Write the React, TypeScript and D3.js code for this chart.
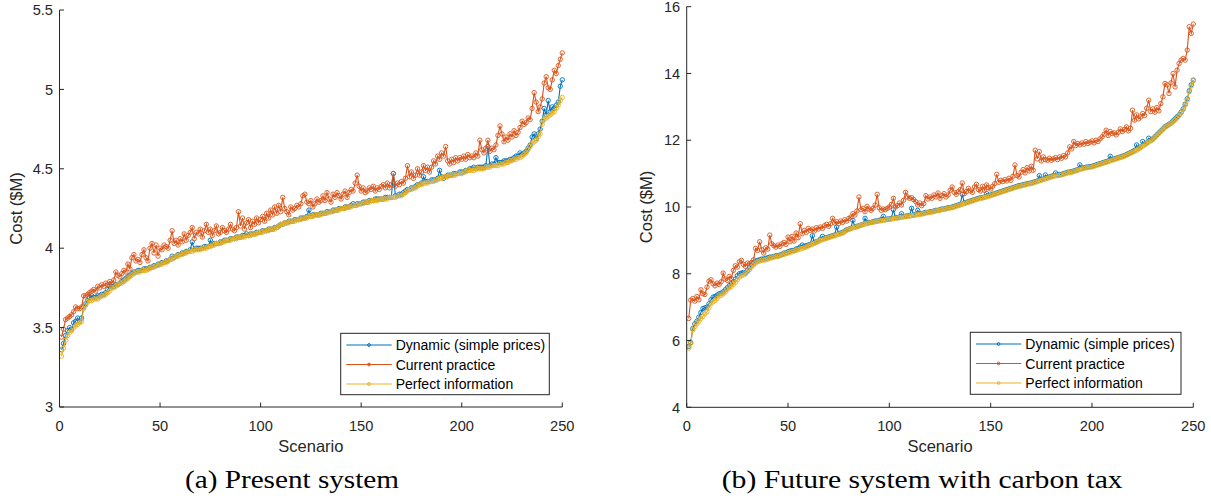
import React from 'react';
import * as d3 from 'd3';

// ---- Present system: cost per scenario ($M) ----
const presentDynamic = [
  3.36,3.40,3.45,3.48,3.50,3.49,3.53,3.54,3.56,3.54,
  3.56,3.63,3.65,3.67,3.69,3.70,3.69,3.69,3.70,3.70,
  3.71,3.71,3.72,3.74,3.76,3.76,3.76,3.77,3.77,3.78,
  3.79,3.80,3.81,3.82,3.83,3.84,3.85,3.85,3.86,3.86,
  3.86,3.87,3.87,3.87,3.88,3.88,3.89,3.89,3.90,3.90,
  3.91,3.91,3.92,3.92,3.93,3.95,3.94,3.95,3.96,3.96,
  3.97,3.97,3.98,3.98,3.99,4.04,3.99,4.00,4.00,4.00,
  4.00,4.01,4.01,4.01,4.05,4.02,4.03,4.03,4.03,4.04,
  4.04,4.05,4.05,4.05,4.06,4.06,4.06,4.07,4.07,4.07,
  4.08,4.08,4.09,4.08,4.09,4.09,4.09,4.10,4.10,4.10,
  4.11,4.11,4.11,4.12,4.12,4.12,4.13,4.13,4.14,4.15,
  4.15,4.16,4.16,4.17,4.17,4.17,4.18,4.18,4.18,4.19,
  4.19,4.19,4.20,4.24,4.20,4.21,4.21,4.21,4.21,4.22,
  4.22,4.22,4.23,4.23,4.23,4.24,4.24,4.24,4.25,4.25,
  4.25,4.26,4.26,4.26,4.27,4.28,4.27,4.28,4.28,4.28,
  4.29,4.29,4.29,4.30,4.30,4.30,4.31,4.31,4.31,4.31,
  4.31,4.32,4.32,4.32,4.32,4.47,4.33,4.33,4.34,4.34,
  4.35,4.36,4.37,4.37,4.38,4.38,4.39,4.40,4.40,4.41,
  4.45,4.42,4.42,4.42,4.43,4.43,4.43,4.44,4.49,4.45,
  4.44,4.45,4.46,4.46,4.46,4.47,4.47,4.47,4.48,4.48,
  4.48,4.49,4.49,4.50,4.50,4.51,4.50,4.51,4.51,4.51,
  4.51,4.52,4.64,4.52,4.53,4.53,4.57,4.54,4.54,4.54,
  4.55,4.55,4.55,4.56,4.56,4.57,4.58,4.58,4.60,4.59,
  4.60,4.61,4.63,4.65,4.70,4.72,4.69,4.72,4.75,4.80,
  4.88,4.84,4.93,4.86,4.89,4.88,4.90,4.92,5.02,5.06,
];

const presentCurrent = [
  3.44,3.49,3.55,3.56,3.57,3.58,3.60,3.63,3.62,3.62,
  3.63,3.70,3.70,3.71,3.72,3.73,3.74,3.73,3.76,3.75,
  3.77,3.76,3.78,3.77,3.79,3.78,3.80,3.85,3.83,3.82,
  3.84,3.86,3.85,3.90,3.87,3.94,3.96,3.92,3.93,3.91,
  3.96,3.99,3.94,3.92,4.00,4.03,3.97,4.02,3.95,4.00,
  3.99,4.02,4.01,4.00,4.05,4.11,4.03,4.05,4.02,4.06,
  4.04,4.09,4.05,4.08,4.10,4.13,4.06,4.10,4.09,4.12,
  4.07,4.11,4.15,4.10,4.12,4.08,4.11,4.14,4.09,4.10,
  4.13,4.11,4.10,4.12,4.15,4.12,4.11,4.13,4.23,4.14,
  4.19,4.12,4.16,4.18,4.13,4.17,4.15,4.19,4.16,4.18,
  4.20,4.17,4.22,4.19,4.24,4.21,4.26,4.22,4.27,4.23,
  4.32,4.25,4.23,4.21,4.26,4.24,4.25,4.27,4.26,4.28,
  4.33,4.34,4.29,4.28,4.30,4.26,4.28,4.31,4.29,4.30,
  4.33,4.30,4.35,4.31,4.29,4.34,4.32,4.35,4.33,4.31,
  4.34,4.36,4.32,4.35,4.37,4.36,4.41,4.46,4.39,4.36,
  4.38,4.35,4.36,4.38,4.37,4.39,4.36,4.38,4.37,4.39,
  4.40,4.38,4.41,4.38,4.40,4.47,4.39,4.41,4.40,4.42,
  4.41,4.44,4.52,4.45,4.48,4.44,4.46,4.50,4.46,4.48,
  4.52,4.49,4.51,4.48,4.51,4.55,4.53,4.58,4.56,4.60,
  4.58,4.64,4.55,4.53,4.56,4.54,4.57,4.55,4.57,4.56,
  4.58,4.56,4.59,4.57,4.58,4.57,4.60,4.58,4.68,4.62,
  4.60,4.63,4.68,4.61,4.63,4.62,4.65,4.71,4.77,4.72,
  4.67,4.70,4.68,4.72,4.70,4.74,4.71,4.73,4.76,4.80,
  4.78,4.79,4.82,4.81,4.88,4.98,4.92,4.86,4.89,4.94,
  5.04,5.08,5.01,5.00,5.06,5.12,5.10,5.15,5.19,5.23,
];

const presentPerfect = [
  3.32,3.37,3.42,3.45,3.47,3.48,3.50,3.51,3.52,3.53,
  3.54,3.62,3.64,3.66,3.67,3.67,3.68,3.68,3.68,3.69,
  3.70,3.70,3.71,3.72,3.73,3.75,3.75,3.76,3.77,3.78,
  3.78,3.79,3.80,3.81,3.82,3.83,3.84,3.85,3.85,3.85,
  3.86,3.86,3.86,3.87,3.87,3.88,3.88,3.89,3.89,3.90,
  3.90,3.91,3.91,3.92,3.93,3.93,3.94,3.95,3.95,3.96,
  3.96,3.97,3.97,3.98,3.98,3.98,3.99,3.99,3.99,3.99,
  4.00,4.00,4.00,4.01,4.01,4.02,4.02,4.03,4.03,4.03,
  4.04,4.04,4.05,4.05,4.05,4.06,4.06,4.06,4.07,4.07,
  4.07,4.07,4.08,4.08,4.08,4.09,4.09,4.09,4.10,4.10,
  4.10,4.11,4.11,4.11,4.12,4.12,4.12,4.13,4.14,4.15,
  4.15,4.16,4.16,4.16,4.17,4.17,4.17,4.18,4.18,4.18,
  4.19,4.19,4.19,4.20,4.20,4.20,4.21,4.21,4.21,4.21,
  4.22,4.22,4.22,4.23,4.23,4.23,4.24,4.24,4.24,4.25,
  4.25,4.25,4.26,4.26,4.26,4.27,4.27,4.27,4.28,4.28,
  4.28,4.29,4.29,4.29,4.30,4.30,4.30,4.30,4.31,4.31,
  4.31,4.31,4.31,4.32,4.32,4.32,4.32,4.33,4.33,4.33,
  4.34,4.35,4.36,4.37,4.37,4.38,4.38,4.39,4.40,4.40,
  4.41,4.41,4.41,4.42,4.42,4.42,4.43,4.43,4.44,4.44,
  4.45,4.45,4.45,4.46,4.46,4.46,4.46,4.47,4.47,4.47,
  4.48,4.48,4.49,4.49,4.49,4.49,4.50,4.50,4.50,4.50,
  4.50,4.51,4.51,4.51,4.52,4.52,4.52,4.52,4.53,4.53,
  4.53,4.54,4.54,4.55,4.55,4.56,4.56,4.57,4.57,4.58,
  4.59,4.60,4.62,4.64,4.66,4.67,4.68,4.70,4.72,4.78,
  4.81,4.82,4.83,4.84,4.85,4.86,4.88,4.90,4.93,4.95,
];

// ---- Future system with carbon tax: cost per scenario ($M) ----
const futureDynamic = [
  5.82,5.94,6.36,6.50,6.58,6.70,6.84,6.96,6.98,7.00,
  7.10,7.22,7.30,7.32,7.36,7.40,7.42,7.46,7.52,7.58,
  7.64,7.70,7.76,7.84,7.94,8.00,8.02,8.04,8.02,8.10,
  8.18,8.26,8.32,8.36,8.40,8.42,8.44,8.44,8.46,8.48,
  8.50,8.50,8.52,8.54,8.54,8.56,8.58,8.62,8.62,8.66,
  8.68,8.70,8.70,8.74,8.76,8.80,8.86,8.82,8.84,8.86,
  8.88,9.14,8.94,8.96,8.98,9.04,9.12,9.06,9.08,9.10,
  9.12,9.14,9.16,9.40,9.20,9.22,9.24,9.28,9.32,9.34,
  9.36,9.60,9.40,9.42,9.44,9.46,9.48,9.66,9.52,9.54,
  9.54,9.56,9.58,9.58,9.60,9.62,9.72,9.62,9.64,9.64,
  9.66,9.92,9.68,9.68,9.70,9.80,9.72,9.72,9.74,9.74,
  9.96,9.76,9.78,9.90,9.80,9.80,9.82,9.84,9.84,9.86,
  9.86,9.88,9.90,9.90,9.92,9.94,9.94,9.96,9.98,9.98,
  10.00,10.02,10.04,10.06,10.08,10.38,10.12,10.14,10.16,10.18,
  10.20,10.22,10.24,10.26,10.28,10.28,10.30,10.40,10.34,10.36,
  10.38,10.40,10.42,10.44,10.46,10.48,10.50,10.52,10.54,10.56,
  10.58,10.60,10.62,10.64,10.65,10.67,10.68,10.70,10.71,10.72,
  10.74,10.76,10.78,10.94,10.82,10.84,10.96,10.88,10.90,10.92,
  10.94,11.02,10.96,10.97,10.98,11.00,11.02,11.04,11.05,11.06,
  11.08,11.10,11.12,11.26,11.16,11.18,11.19,11.20,11.21,11.22,
  11.24,11.26,11.28,11.30,11.32,11.34,11.36,11.38,11.52,11.42,
  11.44,11.46,11.48,11.50,11.52,11.54,11.57,11.60,11.63,11.66,
  11.70,11.86,11.76,11.80,11.96,11.88,11.92,12.06,12.00,12.04,
  12.10,12.16,12.22,12.28,12.34,12.40,12.44,12.48,12.52,12.58,
  12.64,12.70,12.76,12.84,12.94,13.08,13.24,13.48,13.66,13.80,
];

const futureCurrent = [
  6.66,7.21,7.26,7.18,7.32,7.22,7.52,7.40,7.38,7.60,
  7.78,7.82,7.70,7.64,7.72,7.68,7.76,8.02,7.84,7.80,
  7.92,7.86,8.10,8.24,8.20,8.36,8.40,8.28,8.22,8.32,
  8.30,8.34,8.42,8.76,8.70,8.96,8.72,8.62,8.78,8.74,
  9.16,8.90,8.84,8.80,8.86,8.82,8.90,8.94,8.88,9.10,
  8.96,9.12,8.98,9.22,9.08,9.50,9.20,9.30,9.24,9.36,
  9.30,9.34,9.28,9.38,9.34,9.40,9.36,9.44,9.48,9.42,
  9.50,9.66,9.52,9.56,9.50,9.58,9.54,9.62,9.58,9.66,
  9.70,9.80,9.76,9.88,10.30,9.92,9.96,9.86,10.02,9.94,
  9.90,9.96,10.06,10.38,9.98,9.90,9.94,9.92,9.96,10.00,
  10.08,10.26,10.00,10.04,10.12,10.06,10.20,10.44,10.30,10.26,
  10.28,10.22,10.16,10.06,10.12,10.04,10.10,10.34,10.24,10.30,
  10.26,10.36,10.30,10.42,10.26,10.34,10.40,10.30,10.36,10.50,
  10.60,10.44,10.38,10.46,10.52,10.72,10.40,10.46,10.56,10.48,
  10.44,10.60,10.68,10.52,10.48,10.62,10.50,10.66,10.58,10.54,
  10.62,10.70,10.98,10.74,10.80,10.76,10.82,10.78,10.86,10.80,
  10.92,11.26,10.94,10.90,11.04,11.12,11.02,11.18,11.08,11.22,
  11.10,11.70,11.44,11.66,11.38,11.50,11.42,11.40,11.46,11.40,
  11.44,11.48,11.42,11.50,11.46,11.54,11.50,11.62,11.80,11.74,
  11.96,11.84,11.90,11.86,11.92,11.88,11.96,11.90,11.94,11.98,
  11.92,12.00,11.96,12.04,12.10,12.18,12.30,12.14,12.26,12.20,
  12.22,12.16,12.24,12.34,12.26,12.32,12.40,12.28,12.36,12.90,
  12.60,12.76,12.64,12.70,12.80,12.74,12.96,13.20,12.86,12.94,
  12.84,12.98,12.88,13.10,13.30,13.70,13.66,13.40,13.72,14.00,
  13.60,14.10,14.30,14.40,14.45,14.40,14.70,15.40,15.20,15.48,
];

const futurePerfect = [
  5.77,5.92,6.31,6.42,6.50,6.58,6.66,6.72,6.80,6.86,
  6.98,7.10,7.16,7.20,7.26,7.33,7.36,7.40,7.45,7.52,
  7.58,7.62,7.68,7.74,7.82,7.90,7.94,7.96,8.00,8.06,
  8.12,8.20,8.26,8.32,8.36,8.38,8.40,8.41,8.42,8.44,
  8.46,8.48,8.50,8.51,8.52,8.54,8.56,8.58,8.60,8.62,
  8.64,8.66,8.68,8.70,8.72,8.74,8.76,8.78,8.80,8.83,
  8.86,8.88,8.91,8.94,8.97,9.00,9.02,9.04,9.06,9.08,
  9.10,9.12,9.14,9.16,9.18,9.20,9.22,9.26,9.30,9.33,
  9.35,9.37,9.39,9.41,9.43,9.45,9.47,9.49,9.50,9.52,
  9.53,9.54,9.56,9.57,9.58,9.59,9.60,9.61,9.62,9.63,
  9.64,9.65,9.66,9.67,9.68,9.69,9.70,9.71,9.72,9.73,
  9.74,9.75,9.76,9.77,9.78,9.79,9.80,9.82,9.83,9.84,
  9.85,9.86,9.88,9.89,9.90,9.92,9.93,9.94,9.96,9.97,
  9.98,10.00,10.02,10.04,10.06,10.08,10.10,10.12,10.14,10.16,
  10.18,10.20,10.22,10.24,10.26,10.27,10.29,10.30,10.32,10.34,
  10.36,10.38,10.40,10.42,10.44,10.46,10.48,10.50,10.52,10.54,
  10.56,10.58,10.60,10.62,10.63,10.65,10.66,10.68,10.69,10.70,
  10.72,10.74,10.76,10.78,10.80,10.82,10.84,10.86,10.88,10.90,
  10.92,10.93,10.94,10.95,10.96,10.98,11.00,11.02,11.03,11.04,
  11.06,11.08,11.10,11.12,11.14,11.16,11.17,11.18,11.19,11.20,
  11.22,11.24,11.26,11.28,11.30,11.32,11.34,11.36,11.38,11.40,
  11.42,11.44,11.46,11.48,11.50,11.52,11.55,11.58,11.61,11.64,
  11.67,11.70,11.74,11.78,11.82,11.86,11.90,11.94,11.98,12.02,
  12.08,12.14,12.20,12.26,12.32,12.38,12.42,12.46,12.50,12.55,
  12.60,12.66,12.74,12.82,12.92,13.05,13.20,13.45,13.62,13.78,
];

const seriesNames = ['Dynamic (simple prices)', 'Current practice', 'Perfect information'];
const seriesColors = ['#0072BD', '#D95319', '#EDB120'];
const xTicks = [0, 50, 100, 150, 200, 250];
const presentYTicks = [3, 3.5, 4, 4.5, 5, 5.5];
const futureYTicks = [4, 6, 8, 10, 12, 14, 16];

const AXIS = '#262626';
const SANS = '"Liberation Sans", Arial, Helvetica, sans-serif';
const SERIF = '"Liberation Serif", "Times New Roman", serif';

type PanelProps = {
  x0: number; x1: number; yTop: number; yBottom: number;
  yDomain: [number, number]; yTicks: number[];
  series: number[][];
  yLabelX: number;
  legend: { x: number; y: number; w: number; h: number };
  caption: string; captionX: number; captionW: number;
};

function Panel(p: PanelProps) {
  const x = d3.scaleLinear().domain([0, 250]).range([p.x0, p.x1]);
  const y = d3.scaleLinear().domain(p.yDomain).range([p.yBottom, p.yTop]);
  const line = d3.line<number>().x((_, i) => x(i + 1)).y((v) => y(v));
  const tick = 4.5;
  const lg = p.legend;
  const rowH = 19.5;
  const lineStart = lg.x + 5.6;
  const lineEnd = lg.x + 51;
  const textX = lg.x + 55;
  return (
    <g>
      {/* data series: line plus open circle markers */}
      {p.series.map((vals, si) => (
        <g key={si}>
          <path d={line(vals) || ''} fill="none" stroke={seriesColors[si]} strokeWidth={1.1} />
          {vals.map((v, i) => (
            <circle key={i} cx={x(i + 1)} cy={y(v)} r={2.2} fill="none"
              stroke={seriesColors[si]} strokeWidth={0.9} />
          ))}
        </g>
      ))}
      {/* axes */}
      <line x1={p.x0} y1={p.yBottom} x2={p.x0} y2={p.yTop} stroke={AXIS} strokeWidth={1} />
      <line x1={p.x0} y1={p.yBottom} x2={p.x1} y2={p.yBottom} stroke={AXIS} strokeWidth={1} />
      {p.yTicks.map((t) => (
        <g key={'y' + t}>
          <line x1={p.x0} x2={p.x0 + tick} y1={y(t)} y2={y(t)} stroke={AXIS} strokeWidth={1} />
          <text x={p.x0 - 6.5} y={y(t) + 5.2} textAnchor="end" fontFamily={SANS}
            fontSize={14.6} fill={AXIS}>{String(t)}</text>
        </g>
      ))}
      {xTicks.map((t) => (
        <g key={'x' + t}>
          <line x1={x(t)} x2={x(t)} y1={p.yBottom} y2={p.yBottom - tick} stroke={AXIS} strokeWidth={1} />
          <text x={x(t)} y={p.yBottom + 23.5} textAnchor="middle" fontFamily={SANS}
            fontSize={14.6} fill={AXIS}>{String(t)}</text>
        </g>
      ))}
      <text x={(p.x0 + p.x1) / 2} y={452} textAnchor="middle" fontFamily={SANS}
        fontSize={16.5} fill={AXIS}>Scenario</text>
      <text transform={`translate(${p.yLabelX},${(p.yTop + p.yBottom) / 2}) rotate(-90)`}
        textAnchor="middle" fontFamily={SANS} fontSize={16.5} fill={AXIS}>Cost ($M)</text>
      {/* legend */}
      <rect x={lg.x} y={lg.y} width={lg.w} height={lg.h} fill="#ffffff" stroke={AXIS} strokeWidth={1} />
      {seriesNames.map((name, si) => {
        const cy = lg.y + 11.7 + si * rowH;
        return (
          <g key={name}>
            <line x1={lineStart} x2={lineEnd} y1={cy} y2={cy} stroke={seriesColors[si]} strokeWidth={1.2} />
            <circle cx={(lineStart + lineEnd) / 2} cy={cy} r={1.4} fill="none"
              stroke={seriesColors[si]} strokeWidth={1} />
            <text x={textX} y={cy + 5} fontFamily={SANS} fontSize={14} fill="#000">{name}</text>
          </g>
        );
      })}
      {/* caption */}
      <text x={p.captionX} y={488} fontFamily={SERIF} fontSize={26} fill="#000"
        textLength={p.captionW} lengthAdjust="spacingAndGlyphs">{p.caption}</text>
    </g>
  );
}

export default function App() {
  return (
    <svg width={1211} height={498} viewBox="0 0 1211 498"
      style={{ position: 'absolute', left: 0, top: 0, background: '#fff' }}>
      <rect x={0} y={0} width={1211} height={498} fill="#fff" />
      <Panel x0={59.5} x1={562.3} yTop={10} yBottom={407} yDomain={[3, 5.5]}
        yTicks={presentYTicks} series={[presentDynamic, presentCurrent, presentPerfect]}
        yLabelX={22} legend={{ x: 340.7, y: 333.3, w: 208.6, h: 61.4 }}
        caption="(a) Present system" captionX={185} captionW={214} />
      <Panel x0={686.7} x1={1193.3} yTop={6.7} yBottom={407.3} yDomain={[4, 16]}
        yTicks={futureYTicks} series={[futureDynamic, futureCurrent, futurePerfect]}
        yLabelX={652} legend={{ x: 970.3, y: 332.3, w: 210.7, h: 62 }}
        caption="(b) Future system with carbon tax" captionX={721.7} captionW={401} />
    </svg>
  );
}
